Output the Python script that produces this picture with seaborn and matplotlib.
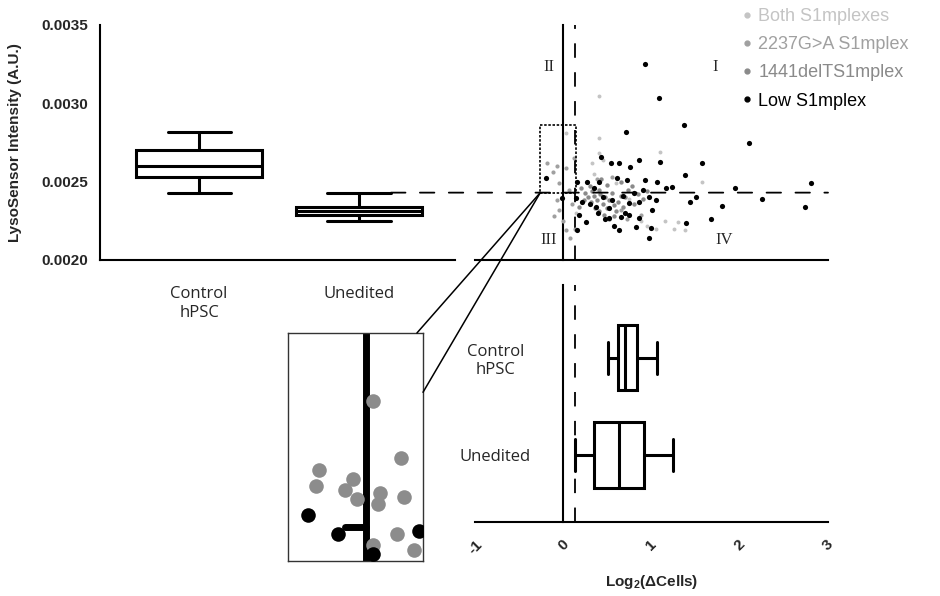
import numpy as np
import pandas as pd
import matplotlib
matplotlib.use("Agg")
import matplotlib.pyplot as plt
import seaborn as sns
from matplotlib.patches import Rectangle, ConnectionPatch
from matplotlib.lines import Line2D

# ---------------- data ----------------
box_groups = ["Control\nhPSC", "Unedited"]
# five-number summaries (min, q1, median, q3, max)
lyso_control = [0.00243, 0.00253, 0.00260, 0.00270, 0.00282]
lyso_unedited = [0.00225, 0.00229, 0.00231, 0.00234, 0.00243]
cells_control = [0.51, 0.62, 0.70, 0.84, 1.06]
cells_unedited = [0.13, 0.35, 0.63, 0.92, 1.24]

yticks_lyso = [0.0020, 0.0025, 0.0030, 0.0035]
ytick_labels = ["0.0020", "0.0025", "0.0030", "0.0035"]
xticks_cells = [-1, 0, 1, 2, 3]
xtick_labels = ["-1", "0", "1", "2", "3"]
lyso_threshold = 0.00243
cells_threshold = 0.13

series_names = ["Both S1mplexes", "2237G>A S1mplex", "1441delTS1mplex", "Low S1mplex"]
series_colors = ["#c4c4c4", "#a0a0a0", "#8a8a8a", "#000000"]

low_x = [0.93, 1.08, 1.37, 0.71, 2.10, 0.54, 0.63, 0.76, 0.86, 1.10, 0.43, -0.20, 0.16, 0.27,
         0.72, 0.61, 0.93, 1.06, 1.16, 1.23, 1.57, 1.38, 1.95, 2.81, 0.14, 0.21, 0.37, 0.52,
         0.75, 0.86, 0.97, 1.05, 1.50, 1.44, 2.25, 2.74, 1.80, 0.18, 0.39, 0.52, 0.65, 0.75,
         0.86, 0.26, 0.63, 0.82, 0.99, 0.97, 0.16, 1.67, 1.39, -0.01, 0.45, 0.55, 0.68, 0.30,
         0.47, 0.58, 0.35, 0.90, 0.80, 1.00, 0.70, 0.40]
low_y = [0.003251, 0.003036, 0.002862, 0.002819, 0.002749, 0.002617, 0.002617, 0.002596,
         0.002638, 0.002627, 0.002659, 0.002521, 0.002500, 0.002500, 0.002511, 0.002523,
         0.002511, 0.002500, 0.002458, 0.002468, 0.002619, 0.002543, 0.002462, 0.002493,
         0.002394, 0.002372, 0.002340, 0.002330, 0.002362, 0.002372, 0.002404, 0.002383,
         0.002402, 0.002372, 0.002387, 0.002340, 0.002347, 0.002287, 0.002298, 0.002266,
         0.002276, 0.002287, 0.002266, 0.002244, 0.002191, 0.002213, 0.002202, 0.002139,
         0.002191, 0.002262, 0.002234, 0.002396, 0.002400, 0.002380, 0.002410, 0.002360,
         0.002260, 0.002220, 0.002460, 0.002450, 0.002430, 0.002320, 0.002300, 0.002500]

del_x = [0.20, 0.25, 0.28, 0.30, 0.33, 0.35, 0.38, 0.40, 0.42, 0.45, 0.47, 0.50, 0.52, 0.55,
         0.57, 0.60, 0.62, 0.65, 0.68, 0.70, 0.73, 0.46, 0.52, 0.58, 0.36, 0.41, 0.31, 0.23,
         0.18, 0.27, 0.43, 0.50, 0.66, 0.78, 0.85, 0.80, 0.95, 0.90]
del_y = [0.00246, 0.00243, 0.00240, 0.00247, 0.00244, 0.00241, 0.00238, 0.00245, 0.00242,
         0.00236, 0.00240, 0.00233, 0.00238, 0.00243, 0.00235, 0.00231, 0.00237, 0.00241,
         0.00234, 0.00240, 0.00245, 0.00229, 0.00226, 0.00228, 0.00233, 0.00231, 0.00237,
         0.00238, 0.00234, 0.00250, 0.00252, 0.00248, 0.00250, 0.00247, 0.00242, 0.00236,
         0.00244, 0.00239]

g2237_x = [-0.18, -0.07, 0.03, -0.12, 0.12, -0.05, -0.07, -0.05, 0.00, 0.03, 0.08, 0.13,
           -0.10, 0.06, 0.10, 0.38, 0.55, 0.65, 0.72, 0.88]
g2237_y = [0.00262, 0.00260, 0.00259, 0.00256, 0.00265, 0.00249, 0.00238, 0.00232, 0.00225,
           0.00219, 0.00214, 0.00220, 0.00228, 0.00245, 0.00236, 0.00252, 0.00253, 0.00232,
           0.00226, 0.00229]

both_x = [0.41, 0.41, 0.41, 1.10, 0.33, 0.45, 1.57, 0.88, 0.95, 1.05, 1.15, 1.25, 1.38, 1.30,
          0.03, 0.35, 0.60, 0.75, 0.15]
both_y = [0.00305, 0.00278, 0.00268, 0.00269, 0.00262, 0.00264, 0.00250, 0.00225, 0.00222,
          0.00220, 0.00225, 0.00220, 0.00219, 0.00224, 0.00281, 0.00255, 0.00249, 0.00239,
          0.00230]

# magnified inset (axes-fraction coordinates)
inset_grey_x = [0.63, 0.84, 0.23, 0.21, 0.48, 0.42, 0.51, 0.68, 0.67, 0.86, 0.81, 0.63, 0.93]
inset_grey_y = [0.70, 0.45, 0.40, 0.33, 0.36, 0.31, 0.27, 0.30, 0.25, 0.28, 0.12, 0.07, 0.05]
inset_black_x = [0.15, 0.37, 0.97, 0.63]
inset_black_y = [0.20, 0.12, 0.13, 0.03]
inset_line_x = 0.58
inset_bar_x = [0.42, 0.58]
inset_bar_y = 0.15

# zoom rectangle in the scatter (data units)
zoom_x0, zoom_x1 = -0.26, 0.15
zoom_y0, zoom_y1 = 0.00243, 0.00286

# ---------------- style ----------------
sns.set_style("white")
plt.rcParams["font.family"] = ["Liberation Sans", "DejaVu Sans"]
plt.rcParams["mathtext.fontset"] = "custom"
plt.rcParams["mathtext.rm"] = "Liberation Sans"
plt.rcParams["mathtext.bf"] = "Liberation Sans:bold"

W, H = 940, 596
fig = plt.figure(figsize=(W / 100, H / 100), dpi=100)
fig.patch.set_facecolor("white")


def px_rect(x0, y0, x1, y1):
    return [x0 / W, 1 - y1 / H, (x1 - x0) / W, (y1 - y0) / H]


ax1 = fig.add_axes(px_rect(100, 25, 455, 260))
ax2 = fig.add_axes(px_rect(475, 25, 828, 260))
ax3 = fig.add_axes(px_rect(475, 285, 828, 522))
axi = fig.add_axes(px_rect(288, 333, 423, 561))

LW = 2.2
box_kw = dict(whis=(0, 100), showfliers=False, color="white", linecolor="black",
              linewidth=LW)

# ---- top-left: LysoSensor boxes ----
df1 = pd.DataFrame({"group": [box_groups[0]] * 5 + [box_groups[1]] * 5,
                    "value": lyso_control + lyso_unedited})
sns.boxplot(data=df1, x="group", y="value", order=box_groups, ax=ax1, width=0.79, **box_kw)
ax1.set_xlim(-0.62, 1.6)
ax1.set_ylim(0.0020, 0.0035)
ax1.set_yticks(yticks_lyso)
ax1.set_yticklabels(ytick_labels, fontsize=11, fontweight="bold")
ax1.set_xticks([0, 1])
ax1.set_xticklabels(box_groups, fontfamily="Open Sans", fontsize=12)
ax1.set_xlabel("")
ax1.set_ylabel("LysoSensor Intensity (A.U.)", fontsize=11, fontweight="bold")
ax1.yaxis.set_label_coords(-78 / 355, 0.5)
for s in ["top", "right"]:
    ax1.spines[s].set_visible(False)
for s in ["left", "bottom"]:
    ax1.spines[s].set_linewidth(1.5)
    ax1.spines[s].set_color("black")
ax1.tick_params(axis="both", direction="out", length=5, width=1.5, color="black")
ax1.tick_params(axis="x", pad=14)

# ---- top-right: scatter ----
ax2.set_xlim(-1, 3)
ax2.set_ylim(0.0020, 0.0035)
ax2.scatter(both_x, both_y, s=8, color=series_colors[0], marker="o", linewidths=0, zorder=3)
ax2.scatter(g2237_x, g2237_y, s=9, color=series_colors[1], marker="o", linewidths=0, zorder=3)
ax2.scatter(del_x, del_y, s=10, color=series_colors[2], marker="o", linewidths=0, zorder=3)
ax2.scatter(low_x, low_y, s=14, color=series_colors[3], marker="o", linewidths=0, zorder=4)
ax2.spines["left"].set_position(("data", 0))
for s in ["top", "right"]:
    ax2.spines[s].set_visible(False)
for s in ["left", "bottom"]:
    ax2.spines[s].set_linewidth(1.5)
    ax2.spines[s].set_color("black")
ax2.set_yticks(yticks_lyso)
ax2.set_yticklabels([])
ax2.set_xticks(xticks_cells)
ax2.set_xticklabels([])
ax2.tick_params(axis="both", direction="out", length=4, width=1.5, color="black")
ax2.axvline(cells_threshold, color="black", lw=1.3, ls=(0, (8, 8)))
ax2.add_patch(Rectangle((zoom_x0, zoom_y0), zoom_x1 - zoom_x0, zoom_y1 - zoom_y0,
                        fill=False, lw=1.2, ls=(0, (1.5, 1)), ec="black", zorder=5))
for txt, xx, yy in [("II", -0.16, 0.003232), ("I", 1.72, 0.003232),
                    ("III", -0.16, 0.002128), ("IV", 1.82, 0.002128)]:
    ax2.text(xx, yy, txt, fontfamily="Liberation Serif", fontsize=12,
             ha="center", va="center")

# horizontal threshold dashed line across both top panels
con_h = ConnectionPatch(xyA=(1.2, lyso_threshold), coordsA=ax1.transData,
                        xyB=(3, lyso_threshold), coordsB=ax2.transData,
                        color="black", lw=1.3, ls=(0, (8, 8)))
fig.add_artist(con_h)

# ---- bottom-right: horizontal boxes ----
df3 = pd.DataFrame({"group": [box_groups[0]] * 5 + [box_groups[1]] * 5,
                    "value": cells_control + cells_unedited})
sns.boxplot(data=df3, x="value", y="group", order=box_groups, orient="y", ax=ax3,
            width=0.67, **box_kw)
ax3.set_xlim(-1, 3)
ax3.set_ylim(1.69, -0.75)
ax3.axvline(cells_threshold, color="black", lw=1.3, ls=(0, (8, 8)))
ax3.spines["left"].set_position(("data", 0))
for s in ["top", "right"]:
    ax3.spines[s].set_visible(False)
for s in ["left", "bottom"]:
    ax3.spines[s].set_linewidth(1.5)
    ax3.spines[s].set_color("black")
ax3.set_xticks(xticks_cells)
ax3.set_xticklabels(xtick_labels, fontsize=11, fontweight="bold", rotation=45)
ax3.set_yticks([0, 1])
ax3.set_yticklabels(box_groups, fontfamily="Open Sans", fontsize=12)
for lab in ax3.get_yticklabels():
    lab.set_horizontalalignment("center")
    lab.set_multialignment("center")
ax3.tick_params(axis="both", direction="out", length=5, width=1.5, color="black")
ax3.tick_params(axis="y", pad=44)
ax3.tick_params(axis="x", pad=6)
ax3.set_ylabel("")
ax3.set_xlabel(r"Log$_{\mathbf{2}}$(ΔCells)", fontsize=11, fontweight="bold", labelpad=12)

# ---- inset: magnified region ----
axi.set_xlim(0, 1)
axi.set_ylim(0, 1)
axi.set_xticks([])
axi.set_yticks([])
for s in axi.spines.values():
    s.set_visible(True)
    s.set_linewidth(1.0)
    s.set_color("#333333")
axi.axvline(inset_line_x, color="black", lw=5, zorder=2)
axi.plot(inset_bar_x, [inset_bar_y, inset_bar_y], color="black", lw=5, zorder=2)
axi.scatter(inset_grey_x, inset_grey_y, s=110, color="#8c8c8c", linewidths=0, zorder=3)
axi.scatter(inset_black_x, inset_black_y, s=110, color="black", linewidths=0, zorder=4)

# connector lines from the zoom rectangle to the inset
for xyB in [(0.955, 1.0), (1.0, 0.74)]:
    con = ConnectionPatch(xyA=(zoom_x0, zoom_y0), coordsA=ax2.transData,
                          xyB=xyB, coordsB=axi.transAxes, color="black", lw=1.1)
    fig.add_artist(con)

# ---- legend ----
handles = [Line2D([], [], ls="", marker="o", ms=3.5, color=c) for c in series_colors]
fig.legend(handles, series_names, loc="upper left", bbox_to_anchor=(742 / W, 1 - 8 / H),
           frameon=False, fontsize=13, handlelength=0.6, handletextpad=0.3,
           labelspacing=0.62, labelcolor=series_colors, borderaxespad=0, borderpad=0)

fig.savefig("out.png", dpi=100, facecolor="white")
